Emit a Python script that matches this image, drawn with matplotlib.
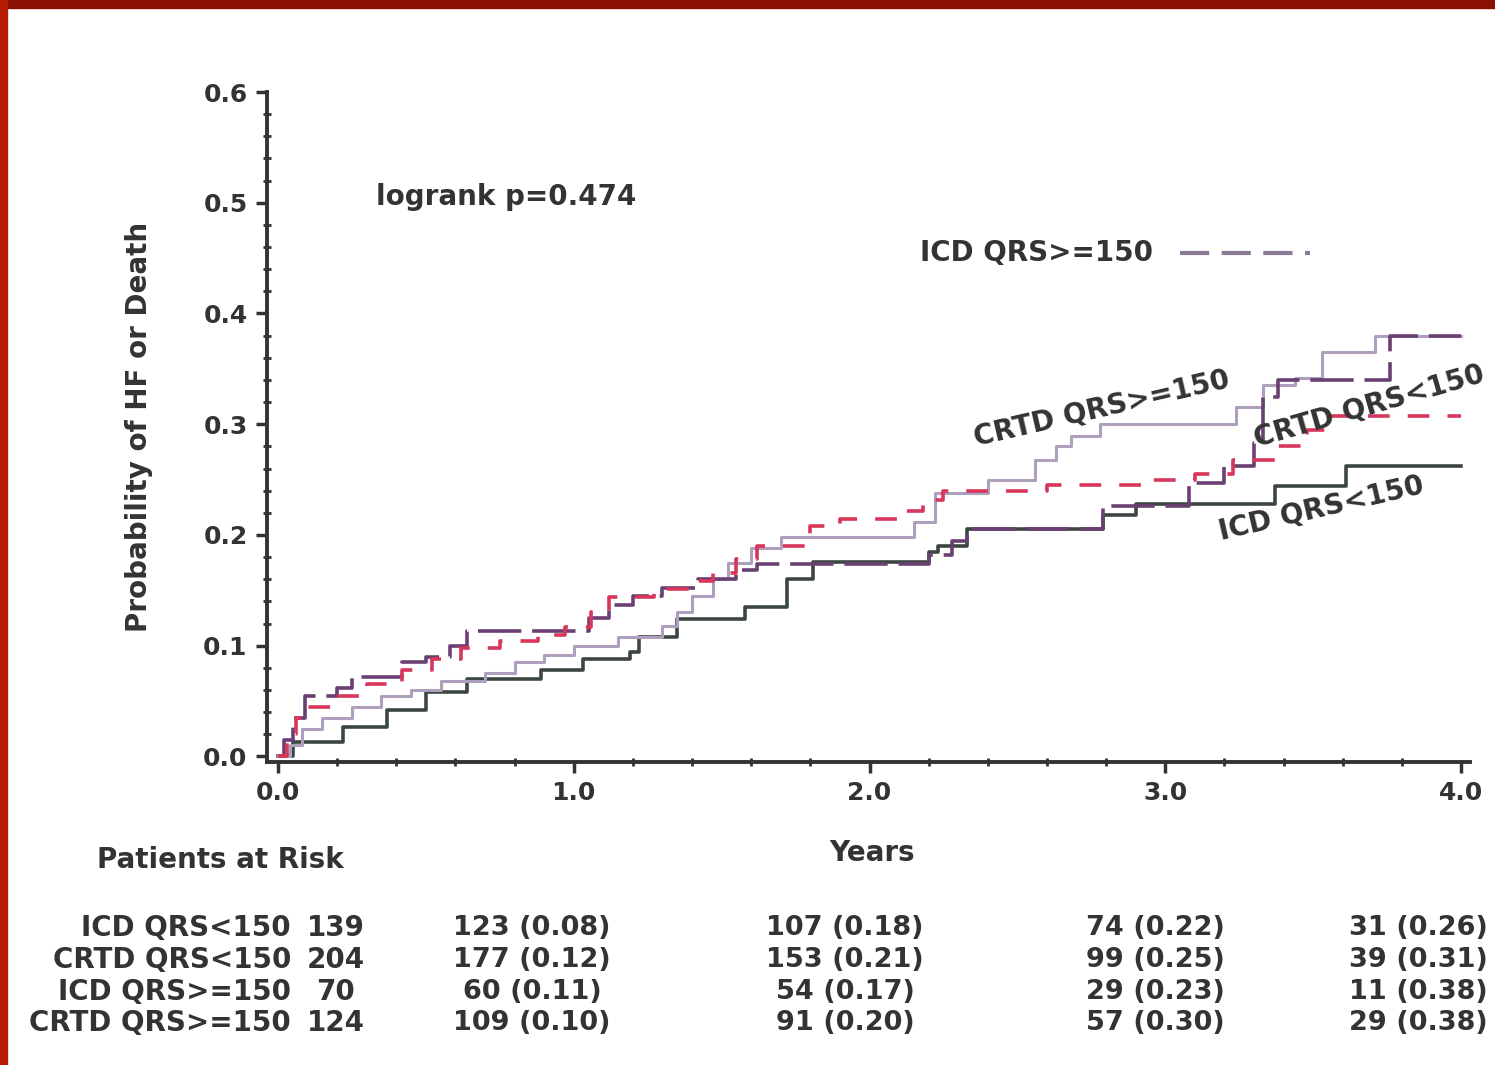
import matplotlib.pyplot as plt
from matplotlib.patches import Rectangle
from matplotlib.ticker import MultipleLocator

plt.rcParams['font.family'] = ['DejaVu Sans']

# cumulative probability of HF or death, step points (years, probability)
icd_lt_t = [0, 0.05, 0.22, 0.37, 0.50, 0.64, 0.89, 1.03, 1.19, 1.22, 1.35, 1.58, 1.72, 1.81,
            2.20, 2.23, 2.33, 2.79, 2.90, 3.37, 3.61, 4.0]
icd_lt_p = [0, 0.013, 0.027, 0.042, 0.058, 0.070, 0.078, 0.088, 0.094, 0.108, 0.124, 0.135, 0.160, 0.176,
            0.185, 0.190, 0.205, 0.218, 0.228, 0.244, 0.262, 0.262]

crtd_lt_t = [0, 0.03, 0.06, 0.10, 0.20, 0.30, 0.42, 0.52, 0.62, 0.75, 0.88, 0.97, 1.06, 1.12, 1.27,
             1.40, 1.47, 1.55, 1.62, 1.80, 1.90, 2.12, 2.18, 2.25, 2.60, 2.95, 3.10, 3.23, 3.38, 3.48,
             3.55, 4.0]
crtd_lt_p = [0, 0.020, 0.035, 0.045, 0.055, 0.065, 0.078, 0.088, 0.098, 0.104, 0.110, 0.117, 0.130,
             0.144, 0.151, 0.158, 0.166, 0.178, 0.190, 0.208, 0.214, 0.222, 0.232, 0.240, 0.245, 0.250,
             0.255, 0.268, 0.280, 0.295, 0.307, 0.307]

icd_ge_t = [0, 0.02, 0.05, 0.09, 0.20, 0.25, 0.42, 0.50, 0.58, 0.64, 1.05, 1.12, 1.20, 1.30, 1.42,
            1.55, 1.62, 2.20, 2.28, 2.33, 2.79, 3.08, 3.20, 3.30, 3.33, 3.38, 3.76, 4.0]
icd_ge_p = [0, 0.015, 0.035, 0.055, 0.062, 0.072, 0.085, 0.090, 0.100, 0.113, 0.125, 0.137, 0.145,
            0.152, 0.160, 0.168, 0.174, 0.182, 0.195, 0.205, 0.226, 0.247, 0.262, 0.283, 0.325, 0.340,
            0.380, 0.380]

crtd_ge_t = [0, 0.04, 0.08, 0.15, 0.25, 0.35, 0.45, 0.55, 0.70, 0.80, 0.90, 1.00, 1.15, 1.30, 1.35,
             1.40, 1.47, 1.52, 1.60, 1.70, 2.15, 2.22, 2.40, 2.56, 2.63, 2.68, 2.78, 3.24, 3.33, 3.44,
             3.53, 3.71, 4.0]
crtd_ge_p = [0, 0.010, 0.025, 0.035, 0.045, 0.055, 0.060, 0.068, 0.075, 0.085, 0.092, 0.100, 0.108,
             0.118, 0.130, 0.145, 0.160, 0.175, 0.188, 0.198, 0.212, 0.238, 0.250, 0.268, 0.280, 0.289,
             0.300, 0.316, 0.335, 0.342, 0.365, 0.380, 0.380]

# patients at risk table
groups = ['ICD QRS<150', 'CRTD QRS<150', 'ICD QRS>=150', 'CRTD QRS>=150']
n_start = [139, 204, 70, 124]
risk_y1 = ['123 (0.08)', '177 (0.12)', '60 (0.11)', '109 (0.10)']
risk_y2 = ['107 (0.18)', '153 (0.21)', '54 (0.17)', '91 (0.20)']
risk_y3 = ['74 (0.22)', '99 (0.25)', '29 (0.23)', '57 (0.30)']
risk_y4 = ['31 (0.26)', '39 (0.31)', '11 (0.38)', '29 (0.38)']

x_ticks = [0, 1, 2, 3, 4]
x_ticklabels = ['0.0', '1.0', '2.0', '3.0', '4.0']
y_ticks = [0, 0.1, 0.2, 0.3, 0.4, 0.5, 0.6]

W, H = 1495, 1065
fig = plt.figure(figsize=(W / 100, H / 100), dpi=100)
fig.patch.set_facecolor('white')

ax = fig.add_axes([267 / W, 1 - 762 / H, 1203 / W, 670 / H])
ax.set_xlim(-0.037, 4.03)
ax.set_ylim(-0.005, 0.6)

txt = '#333333'
ax.step(icd_lt_t, icd_lt_p, where='post', color='#3c4640', lw=2.6)
ax.step(crtd_ge_t, crtd_ge_p, where='post', color='#aea0bd', lw=2.2)
ax.step(icd_ge_t, icd_ge_p, where='post', color='#6a3f72', lw=2.6, dashes=(12, 3))
ax.step(crtd_lt_t, crtd_lt_p, where='post', color='#d8365a', lw=2.6, dashes=(6, 5))

for s in ['top', 'right']:
    ax.spines[s].set_visible(False)
for s in ['left', 'bottom']:
    ax.spines[s].set_linewidth(2.8)
    ax.spines[s].set_color('#333333')

ax.set_xticks(x_ticks)
ax.set_xticklabels(x_ticklabels)
ax.set_yticks(y_ticks)
ax.set_yticklabels(['%.1f' % v for v in y_ticks])
ax.xaxis.set_minor_locator(MultipleLocator(0.2))
ax.yaxis.set_minor_locator(MultipleLocator(0.02))
ax.tick_params(which='major', length=8, width=2.5, color='#333333', labelsize=18,
               labelcolor=txt, pad=6)
ax.tick_params(which='minor', length=6, width=2, direction='inout', color='#333333')
for lab in ax.get_xticklabels() + ax.get_yticklabels():
    lab.set_fontweight('bold')

ax.set_ylabel('Probability of HF or Death', fontsize=20, fontweight='bold', color=txt, labelpad=36)

# annotations inside the plot
ax.text(0.33, 0.505, 'logrank p=0.474', fontsize=20, fontweight='bold', color=txt, va='center')
ax.text(2.17, 0.455, 'ICD QRS>=150', fontsize=20, fontweight='bold', color=txt, va='center')
ax.plot([3.05, 3.49], [0.455, 0.455], color='#8a7a96', lw=3, dashes=(7, 3))
ax.text(2.36, 0.28, 'CRTD QRS>=150', fontsize=20, fontweight='bold', color=txt,
        rotation=13, rotation_mode='anchor', va='baseline')
ax.text(3.31, 0.279, 'CRTD QRS<150', fontsize=20, fontweight='bold', color=txt,
        rotation=16, rotation_mode='anchor', va='baseline', clip_on=False)
ax.text(3.19, 0.195, 'ICD QRS<150', fontsize=20, fontweight='bold', color=txt,
        rotation=13, rotation_mode='anchor', va='baseline')

# axis titles and risk table in figure pixels
def ftext(x, y, s, **kw):
    fig.text(x / W, 1 - y / H, s, fontweight='bold', color=txt, **kw)

ftext(872, 853, 'Years', fontsize=20, ha='center', va='center')
ftext(220, 860, 'Patients at Risk', fontsize=20, ha='center', va='center')
row_y = [928, 960, 992, 1023]
for i, g in enumerate(groups):
    y = row_y[i]
    ftext(291, y, g, fontsize=20, ha='right', va='center')
    ftext(336, y, str(n_start[i]), fontsize=20, ha='center', va='center')
    ftext(532, y, risk_y1[i], fontsize=19.5, ha='center', va='center')
    ftext(845, y, risk_y2[i], fontsize=19.5, ha='center', va='center')
    ftext(1155, y, risk_y3[i], fontsize=19.5, ha='center', va='center')
    ftext(1488, y, risk_y4[i], fontsize=19.5, ha='right', va='center')

# frame bands along the top and left edges
fig.patches.append(Rectangle((0, 1 - 8 / H), 1, 8 / H, transform=fig.transFigure,
                             color='#8c1002', zorder=10))
fig.patches.append(Rectangle((0, 0), 7 / W, 1, transform=fig.transFigure,
                             color='#b41a04', zorder=10))

fig.savefig('out.png', dpi=100)
